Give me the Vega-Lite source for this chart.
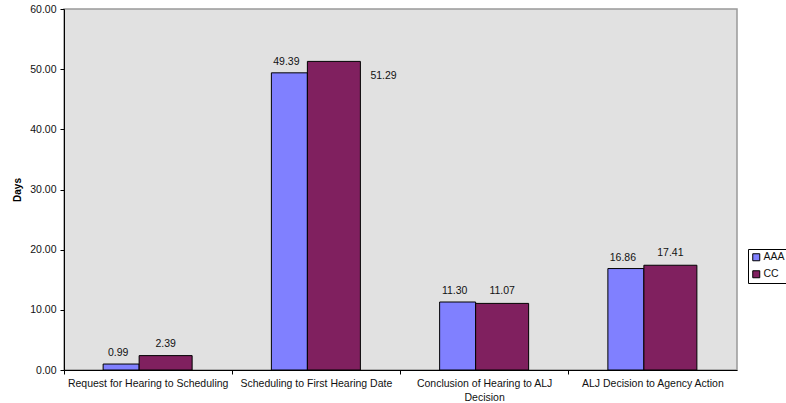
{
  "$schema": "https://vega.github.io/schema/vega-lite/v6.json",
  "width": 673,
  "height": 361,
  "autosize": "none",
  "padding": {"left": 64, "top": 9, "right": 49, "bottom": 33},
  "background": "white",
  "config": {
    "font": "Liberation Sans",
    "view": {"fill": "#e1e1e1", "stroke": "#999999", "strokeWidth": 1.5},
    "axis": {
      "domainColor": "#000000",
      "tickColor": "#000000",
      "labelColor": "#111111",
      "labelFontSize": 10.5,
      "labelFont": "Liberation Sans",
      "grid": false
    },
    "legend": {
      "labelFont": "Liberation Sans",
      "labelFontSize": 10.5,
      "labelColor": "#111111"
    }
  },
  "data": {
    "values": [
      {"stage": "Request for Hearing to Scheduling", "series": "AAA", "days": 0.99},
      {"stage": "Request for Hearing to Scheduling", "series": "CC", "days": 2.39},
      {"stage": "Scheduling to First Hearing Date", "series": "AAA", "days": 49.39},
      {"stage": "Scheduling to First Hearing Date", "series": "CC", "days": 51.29},
      {"stage": "Conclusion of Hearing to ALJ Decision", "series": "AAA", "days": 11.30},
      {"stage": "Conclusion of Hearing to ALJ Decision", "series": "CC", "days": 11.07},
      {"stage": "ALJ Decision to Agency Action", "series": "AAA", "days": 16.86},
      {"stage": "ALJ Decision to Agency Action", "series": "CC", "days": 17.41}
    ]
  },
  "encoding": {
    "x": {
      "field": "stage",
      "type": "nominal",
      "sort": null,
      "scale": {"paddingInner": 0, "paddingOuter": 0},
      "axis": {
        "title": null,
        "labelAngle": 0,
        "bandPosition": 0,
        "tickSize": 4,
        "labelPadding": 4,
        "labelBaseline": "top",
        "labelLineHeight": 14,
        "labelLimit": 0,
        "labelExpr": "datum.label == 'Conclusion of Hearing to ALJ Decision' ? ['Conclusion of Hearing to ALJ', 'Decision'] : datum.label"
      }
    },
    "y": {
      "field": "days",
      "type": "quantitative",
      "scale": {"domain": [0, 60], "nice": false},
      "axis": {
        "title": "Days",
        "titleFontSize": 10,
        "titleFontWeight": "bold",
        "titleColor": "#000000",
        "titlePadding": 7,
        "values": [0, 10, 20, 30, 40, 50, 60],
        "format": ".2f",
        "tickSize": 4,
        "labelPadding": 4
      }
    }
  },
  "layer": [
    {
      "transform": [{"filter": "datum.series == 'AAA'"}],
      "mark": {"type": "bar", "width": 36, "xOffset": -27, "stroke": "#000000", "strokeWidth": 1},
      "encoding": {
        "color": {
          "field": "series",
          "type": "nominal",
          "scale": {"domain": ["AAA", "CC"], "range": ["#8080ff", "#80205f"]},
          "legend": {
            "title": null,
            "orient": "none",
            "legendX": 684,
            "legendY": 240,
            "symbolType": "square",
            "symbolSize": 49,
            "symbolStrokeColor": "#000000",
            "symbolStrokeWidth": 1,
            "symbolOpacity": 1,
            "labelOffset": 2,
            "rowPadding": 5,
            "padding": 3,
            "strokeColor": "#000000",
            "fillColor": "#ffffff"
          }
        }
      }
    },
    {
      "transform": [{"filter": "datum.series == 'CC'"}],
      "mark": {"type": "bar", "width": 53, "xOffset": 17.5, "stroke": "#000000", "strokeWidth": 1},
      "encoding": {
        "color": {"field": "series", "type": "nominal"}
      }
    },
    {
      "transform": [{"filter": "datum.series == 'AAA'"}],
      "mark": {"type": "text", "xOffset": -30, "dy": -11, "baseline": "middle", "fontSize": 10.5, "color": "#111111"},
      "encoding": {"text": {"field": "days", "type": "quantitative", "format": ".2f"}}
    },
    {
      "transform": [{"filter": "datum.series == 'CC' && datum.days <= 50"}],
      "mark": {"type": "text", "xOffset": 17.5, "dy": -12, "baseline": "middle", "fontSize": 10.5, "color": "#111111"},
      "encoding": {"text": {"field": "days", "type": "quantitative", "format": ".2f"}}
    },
    {
      "transform": [{"filter": "datum.series == 'CC' && datum.days > 50"}],
      "mark": {"type": "text", "xOffset": 54, "dy": 15, "align": "left", "baseline": "middle", "fontSize": 10.5, "color": "#111111"},
      "encoding": {"text": {"field": "days", "type": "quantitative", "format": ".2f"}}
    }
  ]
}
